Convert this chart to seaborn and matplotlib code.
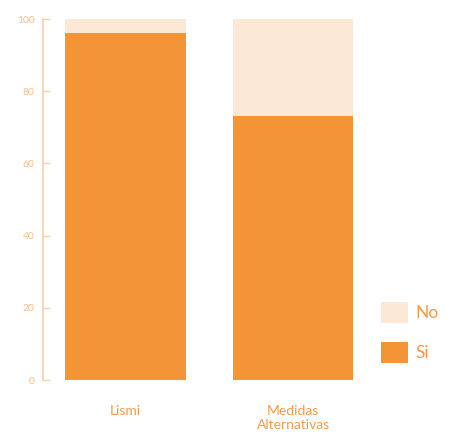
import matplotlib
matplotlib.use("Agg")
import matplotlib.pyplot as plt
import seaborn as sns
import pandas as pd
from matplotlib.patches import Patch

categories = ["Lismi", "Medidas\nAlternativas"]
si_values = [96, 73]
no_values = [4, 27]
y_ticks = [0, 20, 40, 60, 80, 100]

orange = "#F39437"
light = "#FBE8D5"
text_col = "#F39A4A"

sns.set_style("white")
plt.rcParams["font.family"] = ["Lato", "DejaVu Sans"]

df = pd.DataFrame({
    "cat": categories,
    "si": si_values,
    "total": [s + n for s, n in zip(si_values, no_values)],
})

fig = plt.figure(figsize=(4.49, 4.41), dpi=100)
ax = fig.add_axes([43 / 449, 61 / 441, 397 / 449, 361 / 441])

sns.barplot(data=df, x="cat", y="total", color=light, saturation=1,
            width=0.72, ax=ax, linewidth=0)
sns.barplot(data=df, x="cat", y="si", color=orange, saturation=1,
            width=0.72, ax=ax, linewidth=0)

ax.set_xlim(-0.4925, 1.877)
ax.set_ylim(0, 100)
ax.set_yticks(y_ticks)
ax.set_yticklabels([str(t) for t in y_ticks])
ax.set_xlabel("")
ax.set_ylabel("")

for side in ["top", "right", "bottom"]:
    ax.spines[side].set_visible(False)
ax.spines["left"].set_color("#F9CFA8")
ax.spines["left"].set_linewidth(1.2)

ax.tick_params(axis="y", direction="in", length=5, width=1.0,
               color="#F9CFA8", labelcolor="#F7BE8C", labelsize=7.5, pad=6,
               left=True)
ax.tick_params(axis="x", length=0, labelcolor=text_col, labelsize=10, pad=18)

handles = [Patch(facecolor=light, edgecolor="none", label="No"),
           Patch(facecolor=orange, edgecolor="none", label="Si")]
leg = ax.legend(handles=handles, loc="lower left",
                bbox_to_anchor=(322 / 397, 1 / 361), frameon=False,
                handlelength=1.55, handleheight=1.55, handletextpad=0.45,
                labelspacing=1.05, fontsize=12.5)
for t in leg.get_texts():
    t.set_color(text_col)

fig.savefig("out.png", dpi=100)
